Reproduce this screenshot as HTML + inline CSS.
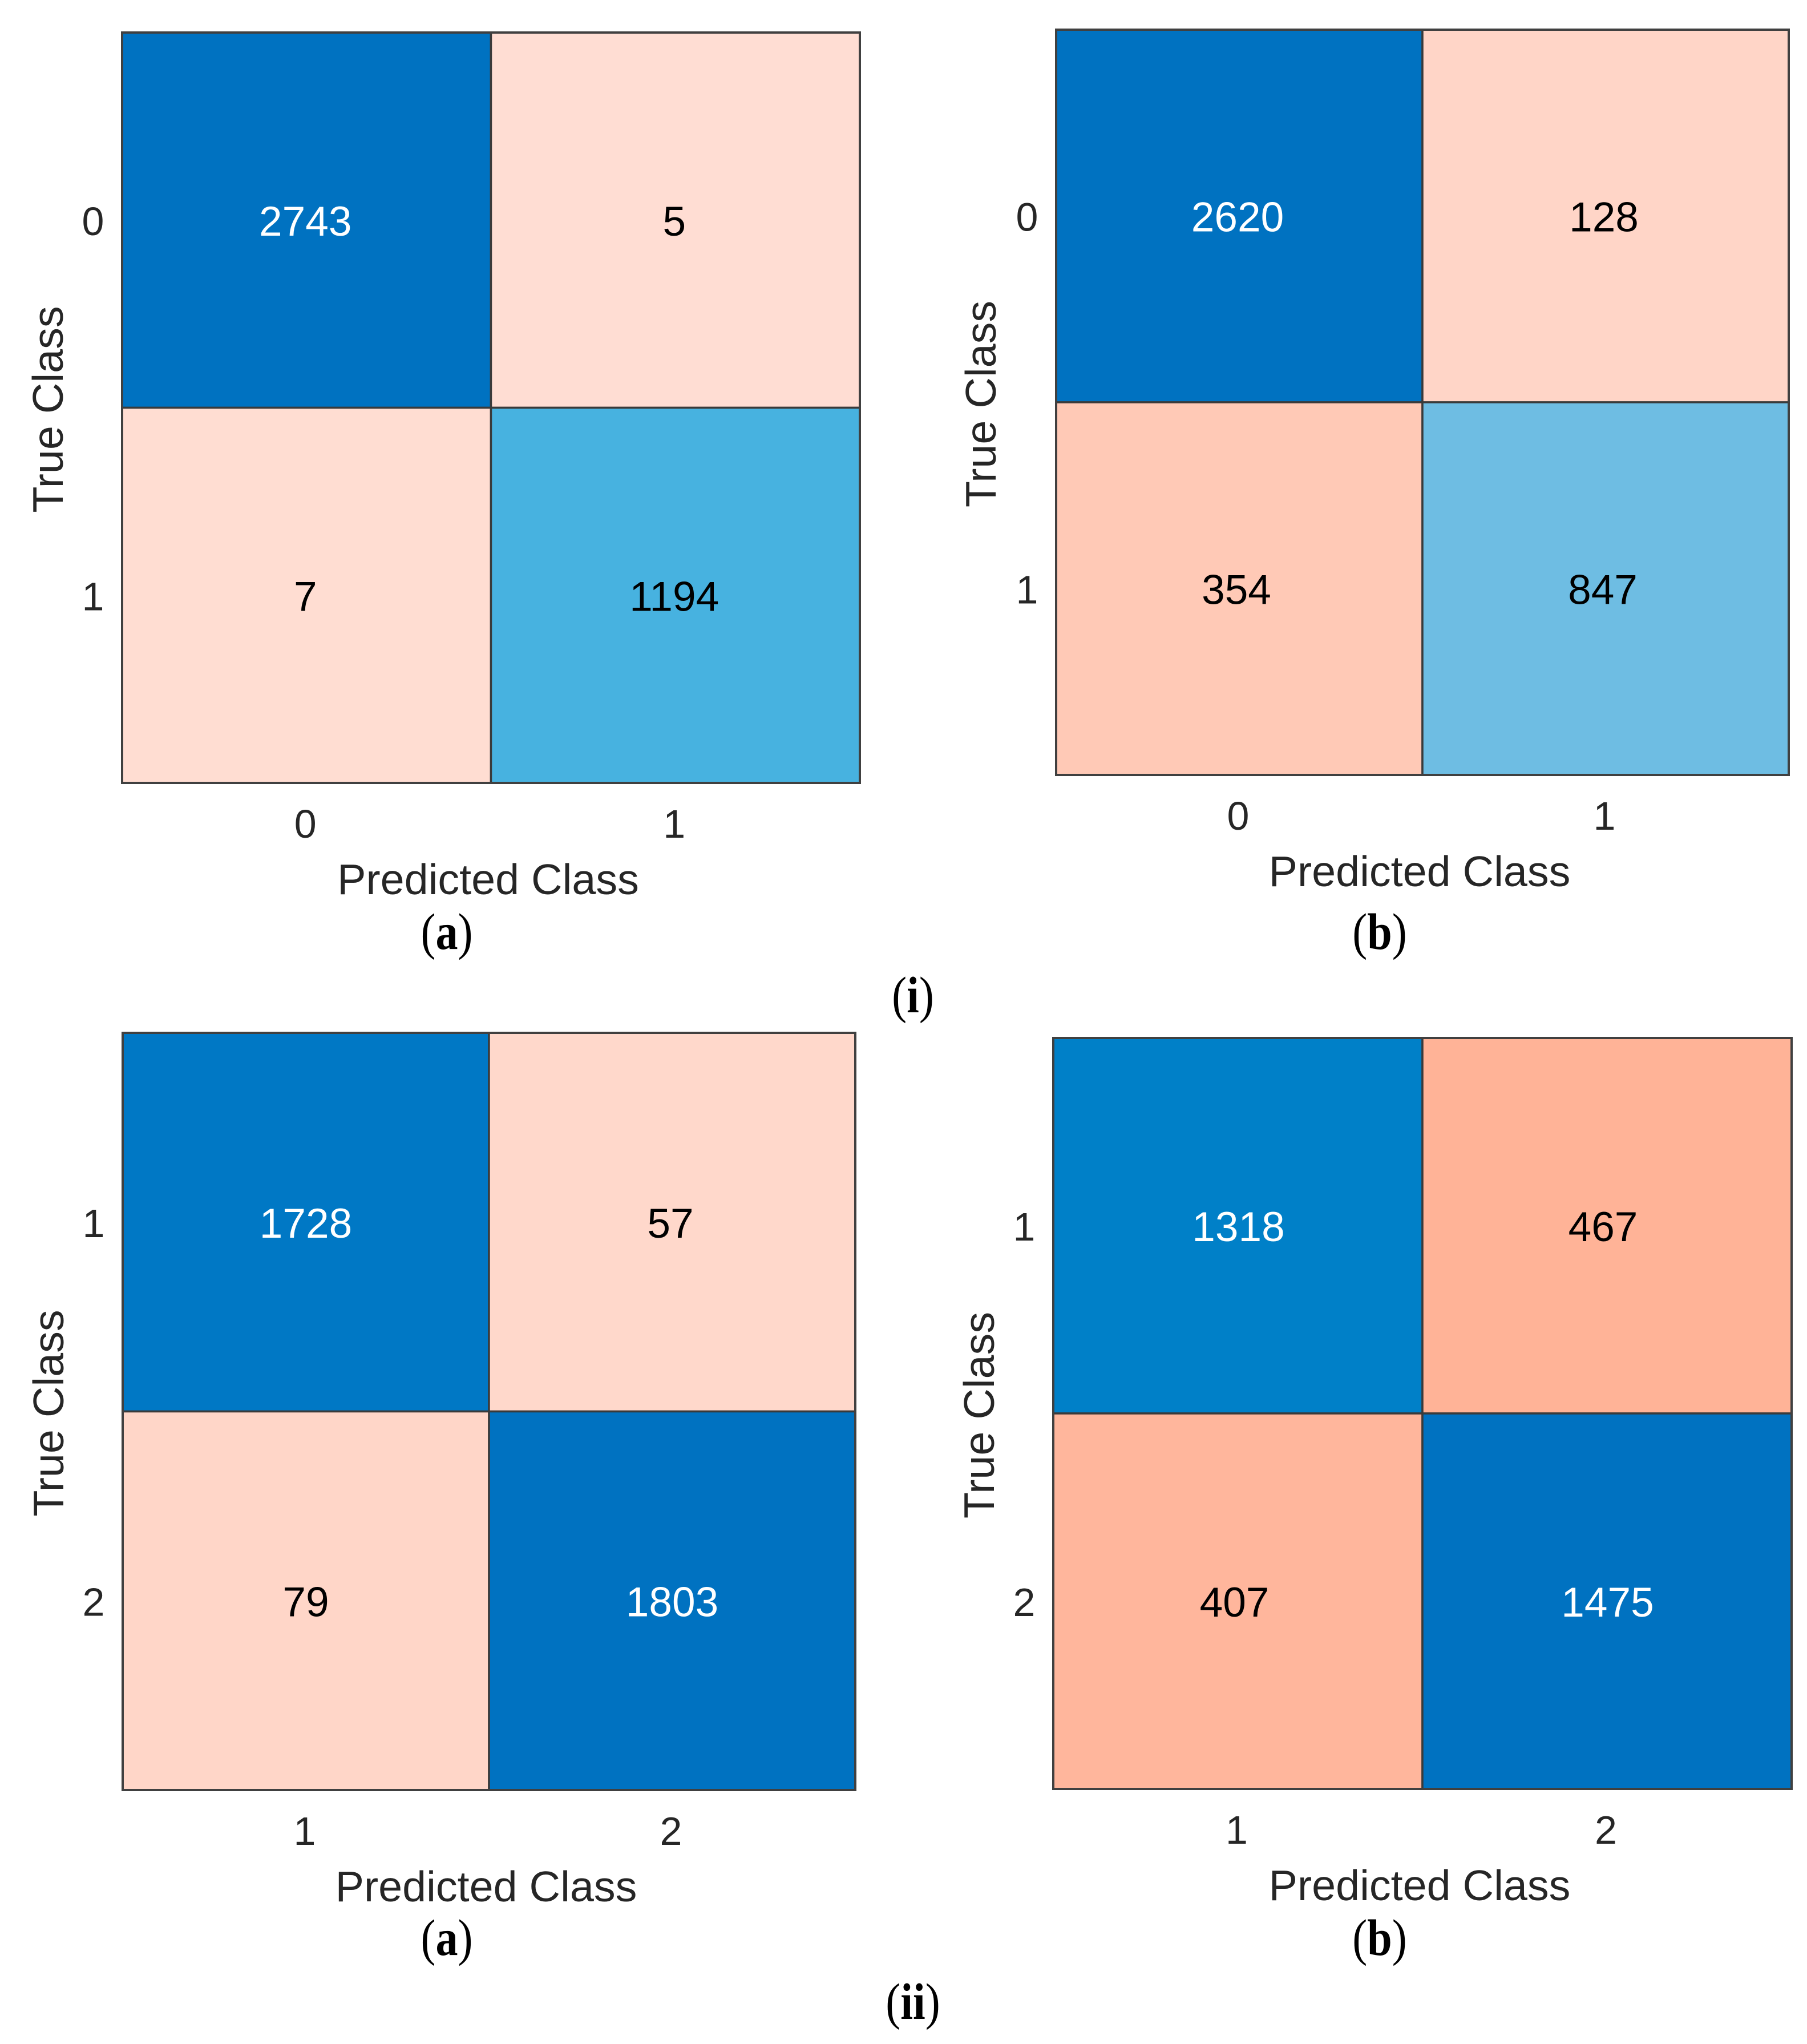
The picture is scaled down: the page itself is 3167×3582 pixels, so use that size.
<!DOCTYPE html>
<html lang="en">
<head>
<meta charset="utf-8">
<title>Confusion matrices</title>
<style>
html,body{margin:0;padding:0;background:#fff;width:3167px;height:3582px;overflow:hidden}
svg{display:block}
</style>
</head>
<body>
<svg id="figure" xmlns="http://www.w3.org/2000/svg" width="3167" height="3582" viewBox="0 0 3167 3582">
  <rect x="0" y="0" width="3167" height="3582" fill="#ffffff"/>
</svg>
<script>
const classLabelsTop = ["0", "1"];
const classLabelsBottom = ["1", "2"];
const valuesTopA = [[2743, 5], [7, 1194]];
const valuesTopB = [[2620, 128], [354, 847]];
const valuesBottomA = [[1728, 57], [79, 1803]];
const valuesBottomB = [[1318, 467], [407, 1475]];
const xAxisTitle = "Predicted Class";
const yAxisTitle = "True Class";

const svg = document.getElementById("figure");
const NS = "http://www.w3.org/2000/svg";
const SANS = '"Liberation Sans", Arial, sans-serif';
const SERIF = '"Liberation Serif", "Times New Roman", serif';

const layouts = [
  { id: "top-a", values: valuesTopA, labels: classLabelsTop, left: 214, right: 1507, top: 57, bottom: 1372, caption: "a", capX: 783, capY: 1663, titleGap: 104, shift: [[-2, -2], [-2, -2]] },
  { id: "top-b", values: valuesTopB, labels: classLabelsTop, left: 1851, right: 3135, top: 52, bottom: 1358, caption: "b", capX: 2418, capY: 1663, titleGap: 106, shift: [[-3, -3], [-5, -5]] },
  { id: "bottom-a", values: valuesBottomA, labels: classLabelsBottom, left: 215, right: 1499, top: 1810, bottom: 3137, caption: "a", capX: 783, capY: 3426, titleGap: 104, shift: [[0, -3], [0, 0]] },
  { id: "bottom-b", values: valuesBottomB, labels: classLabelsBottom, left: 1846, right: 3140, top: 1819, bottom: 3135, caption: "b", capX: 2418, capY: 3426, titleGap: 104, shift: [[1, -7], [-6, 1]] }
];

function lerp(a, b, t) { return a + (b - a) * t; }

function ramp(stops, t) {
  let i = 0;
  while (i < stops.length - 2 && t > stops[i + 1][0]) i++;
  const s0 = stops[i], s1 = stops[i + 1];
  const u = Math.max(0, Math.min(1, (t - s0[0]) / (s1[0] - s0[0])));
  return "rgb(" + [1, 2, 3].map(function (c) { return Math.round(lerp(s0[c], s1[c], u)); }).join(",") + ")";
}

const diagonalScale = [[0, 190, 225, 240], [0.323, 110, 189, 227], [0.435, 71, 178, 224], [0.894, 0, 128, 200], [0.958, 0, 120, 197], [1, 0, 114, 193]];
const offDiagonalScale = [[0, 255, 221, 211], [0.049, 255, 213, 199], [0.135, 255, 201, 182], [0.276, 255, 182, 156], [0.317, 255, 179, 151], [1, 200, 60, 40]];

function cellColor(value, row, col, maxValue) {
  const t = value / maxValue;
  return ramp(row === col ? diagonalScale : offDiagonalScale, t);
}

function textColor(value, row, col, maxValue) {
  return row === col && value / maxValue > 0.5 ? "#ffffff" : "#000000";
}

function addText(str, x, y, size, opts) {
  const el = document.createElementNS(NS, "text");
  const o = opts || {};
  el.textContent = str;
  el.setAttribute("font-family", o.family || SANS);
  el.setAttribute("font-size", size);
  el.setAttribute("fill", o.fill || "#262626");
  el.setAttribute("text-anchor", "middle");
  if (o.rotate) {
    el.setAttribute("transform", "translate(" + x + " " + y + ") rotate(-90)");
  } else {
    el.setAttribute("x", x);
    el.setAttribute("y", y);
  }
  svg.appendChild(el);
  return el;
}

function addCaption(letter, x, y) {
  const el = document.createElementNS(NS, "text");
  el.setAttribute("font-family", SERIF);
  el.setAttribute("font-size", "84");
  el.setAttribute("fill", "#000000");
  el.setAttribute("text-anchor", "middle");
  el.setAttribute("transform", "translate(" + x + " " + y + ") scale(0.93 1.07)");
  const bold = document.createElementNS(NS, "tspan");
  bold.setAttribute("font-weight", "bold");
  bold.textContent = letter;
  el.appendChild(document.createTextNode("("));
  el.appendChild(bold);
  el.appendChild(document.createTextNode(")"));
  svg.appendChild(el);
  return el;
}

layouts.forEach(function (p) {
  const n = p.labels.length;
  const flat = p.values.reduce(function (a, r) { return a.concat(r); }, []);
  const maxValue = Math.max.apply(null, flat);
  const xScale = function (i) { return p.left + (p.right - p.left) * (i / n); };
  const yScale = function (i) { return p.top + (p.bottom - p.top) * (i / n); };
  const xCenter = function (i) { return (xScale(i) + xScale(i + 1)) / 2; };
  const yCenter = function (i) { return (yScale(i) + yScale(i + 1)) / 2; };

  p.values.forEach(function (row, r) {
    row.forEach(function (value, c) {
      const rect = document.createElementNS(NS, "rect");
      rect.setAttribute("x", xScale(c));
      rect.setAttribute("y", yScale(r));
      rect.setAttribute("width", xScale(c + 1) - xScale(c));
      rect.setAttribute("height", yScale(r + 1) - yScale(r));
      rect.setAttribute("fill", cellColor(value, r, c, maxValue));
      rect.setAttribute("stroke", "#3a3a3a");
      rect.setAttribute("stroke-width", "3.5");
      
      
      svg.appendChild(rect);
    });
  });

  const frame = document.createElementNS(NS, "rect");
  frame.setAttribute("x", p.left);
  frame.setAttribute("y", p.top);
  frame.setAttribute("width", p.right - p.left);
  frame.setAttribute("height", p.bottom - p.top);
  frame.setAttribute("fill", "none");
  frame.setAttribute("stroke", "#404040");
  frame.setAttribute("stroke-width", "4");
  
  
  svg.appendChild(frame);

  p.values.forEach(function (row, r) {
    row.forEach(function (value, c) {
      const t = addText(String(value), xCenter(c) + p.shift[r][c], yCenter(r) + 27, 73, { fill: textColor(value, r, c, maxValue) });
      
      
    });
  });

  p.labels.forEach(function (label, i) {
    const xt = addText(label, xCenter(i) - 2, p.bottom + 96, 70);
    
    
    const yt = addText(label, p.left - 51, yCenter(i) + 26, 70);
    
    
  });

  const xTitle = addText(xAxisTitle, (p.left + p.right) / 2 - 5, p.bottom + 195, 75.5);
  
  
  const yTitle = addText(yAxisTitle, p.left - p.titleGap, (p.top + p.bottom) / 2 + 3, 75.5, { rotate: true });
  
  

  const cap = addCaption(p.caption, p.capX, p.capY);
  
  
});

const groupOne = addCaption("i", 1600, 1774);


const groupTwo = addCaption("ii", 1600, 3538);


</script>
</body>
</html>
